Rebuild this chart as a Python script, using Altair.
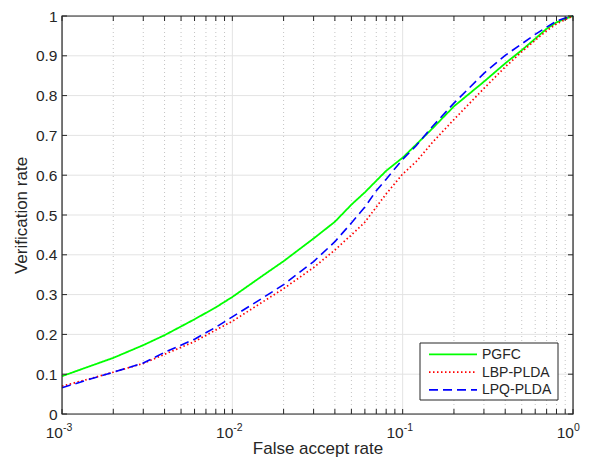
import altair as alt
import pandas as pd

# ---- data ----
fpr = [0.001, 0.0015, 0.002, 0.003, 0.004, 0.006, 0.008, 0.01, 0.015, 0.02,
       0.03, 0.04, 0.05, 0.06, 0.07, 0.08, 0.1, 0.12, 0.15, 0.2,
       0.3, 0.4, 0.5, 0.6, 0.7, 0.8, 0.9, 1.0]
pgfc = [0.095, 0.122, 0.141, 0.173, 0.198, 0.238, 0.268, 0.294, 0.347, 0.384,
        0.441, 0.483, 0.526, 0.557, 0.586, 0.611, 0.644, 0.677, 0.718, 0.773,
        0.835, 0.881, 0.914, 0.943, 0.968, 0.984, 0.993, 1.0]
lbp = [0.070, 0.090, 0.105, 0.127, 0.150, 0.182, 0.211, 0.233, 0.281, 0.315,
       0.368, 0.412, 0.450, 0.482, 0.520, 0.553, 0.603, 0.634, 0.683, 0.740,
       0.818, 0.872, 0.910, 0.939, 0.963, 0.980, 0.991, 1.0]
lpq = [0.066, 0.089, 0.105, 0.128, 0.155, 0.188, 0.218, 0.244, 0.291, 0.325,
       0.383, 0.433, 0.480, 0.520, 0.561, 0.590, 0.640, 0.674, 0.723, 0.781,
       0.856, 0.901, 0.930, 0.954, 0.972, 0.987, 0.995, 1.0]

series_names = ["PGFC", "LBP-PLDA", "LPQ-PLDA"]
series_colors = ["#00ff00", "#ff0000", "#0000ff"]
series_dash = [[1, 0], [1.5, 2.5], [9, 5]]
series_width = [1.8, 1.6, 2.0]

x_major = [0.001, 0.01, 0.1, 1.0]
x_exp = ["-3", "-2", "-1", "0"]
x_minor = [m * d for d in [0.001, 0.01, 0.1] for m in range(2, 10)]
y_ticks = [round(i * 0.1, 1) for i in range(11)]

# ---- layout / style ----
W, H = 511, 398
FONT = "Liberation Sans"
TXT = "#262626"

rows = []
for name, vals in zip(series_names, [pgfc, lbp, lpq]):
    for x, y in zip(fpr, vals):
        rows.append({"series": name, "fpr": x, "vr": y})
df = pd.DataFrame(rows)

xs = alt.Scale(type="log", domain=[0.001, 1])
ysc = alt.Scale(domain=[0, 1])
x_axis = alt.Axis(
    title="False accept rate", labels=False, ticks=False, domain=False, grid=False,
    titleFont=FONT, titleFontSize=17, titleFontWeight="normal", titleColor=TXT,
    titlePadding=26)
y_axis = alt.Axis(
    title="Verification rate", values=y_ticks, format="~g", ticks=False, domain=False,
    grid=False, labelFont=FONT, labelFontSize=15.5, labelColor=TXT, labelPadding=5,
    titleFont=FONT, titleFontSize=17, titleFontWeight="normal", titleColor=TXT,
    titlePadding=5)


def X(field):
    return alt.X(field, scale=xs, axis=x_axis)


def Y(field):
    return alt.Y(field, scale=ysc, axis=y_axis)


color = alt.Color("series:N", scale=alt.Scale(domain=series_names, range=series_colors), legend=None)
dash = alt.StrokeDash("series:N", scale=alt.Scale(domain=series_names, range=series_dash), legend=None)
swidth = alt.StrokeWidth("series:N", scale=alt.Scale(domain=series_names, range=series_width), legend=None)

minor_grid = alt.Chart(pd.DataFrame({"x": x_minor})).mark_rule(
    color="#c4c4c4", strokeDash=[1, 3], strokeWidth=1
).encode(x=X("x:Q"), y=alt.value(0), y2=alt.value(H))

major_xgrid = alt.Chart(pd.DataFrame({"x": x_major[1:-1]})).mark_rule(
    color="#e3e3e3", strokeWidth=1
).encode(x=X("x:Q"), y=alt.value(0), y2=alt.value(H))

major_ygrid = alt.Chart(pd.DataFrame({"y": y_ticks[1:-1]})).mark_rule(
    color="#e3e3e3", strokeWidth=1
).encode(y=Y("y:Q"), x=alt.value(0), x2=alt.value(W))

lines = alt.Chart(df).mark_line(strokeCap="butt").encode(
    x=X("fpr:Q"), y=Y("vr:Q"),
    color=color, strokeDash=dash, strokeWidth=swidth,
    detail="series:N",
)

tick_df = pd.DataFrame({"x": x_major + x_minor})
xticks_bottom = alt.Chart(tick_df).mark_rule(color=TXT, strokeWidth=1).encode(
    x=X("x:Q"), y=alt.value(H), y2=alt.value(H - 5))
xticks_top = alt.Chart(tick_df).mark_rule(color=TXT, strokeWidth=1).encode(
    x=X("x:Q"), y=alt.value(0), y2=alt.value(5))
ytick_df = pd.DataFrame({"y": y_ticks})
yticks_left = alt.Chart(ytick_df).mark_rule(color=TXT, strokeWidth=1).encode(
    y=Y("y:Q"), x=alt.value(0), x2=alt.value(5))
yticks_right = alt.Chart(ytick_df).mark_rule(color=TXT, strokeWidth=1).encode(
    y=Y("y:Q"), x=alt.value(W), x2=alt.value(W - 5))

frame = alt.Chart(pd.DataFrame({"a": [0]})).mark_rect(
    fillOpacity=0, stroke=TXT, strokeWidth=1.2
).encode(x=alt.value(0), x2=alt.value(W), y=alt.value(0), y2=alt.value(H))

lab_df = pd.DataFrame({"x": x_major, "exp": x_exp})
base_lab = alt.Chart(lab_df).mark_text(
    text="10", align="right", baseline="alphabetic", dx=1,
    font=FONT, fontSize=15.5, color=TXT
).encode(x=X("x:Q"), y=alt.value(H + 24))
exp_lab = alt.Chart(lab_df).mark_text(
    align="left", baseline="alphabetic", dx=1,
    font=FONT, fontSize=10.5, color=TXT
).encode(x=X("x:Q"), y=alt.value(H + 17), text="exp:N")

# ---- legend (drawn box, sample lines and names) ----
LX0, LX1, LY0, LY1 = 358, 496, 327, 384
leg_box = alt.Chart(pd.DataFrame({"a": [0]})).mark_rect(
    fill="white", stroke=TXT, strokeWidth=1
).encode(x=alt.value(LX0), x2=alt.value(LX1), y=alt.value(LY0), y2=alt.value(LY1))
legend_layers = [leg_box]
for i, name in enumerate(series_names):
    ry = 338.3 + i * 17.8
    d = pd.DataFrame({"series": [name]})
    legend_layers.append(alt.Chart(d).mark_rule(strokeCap="butt").encode(
        x=alt.value(LX0 + 9), x2=alt.value(LX0 + 57), y=alt.value(ry),
        color=color, strokeDash=dash, strokeWidth=swidth))
    legend_layers.append(alt.Chart(d).mark_text(
        align="left", baseline="middle", font=FONT, fontSize=14, color=TXT
    ).encode(x=alt.value(LX0 + 62), y=alt.value(ry + 0.5), text="series:N"))

chart = alt.layer(
    minor_grid, major_xgrid, major_ygrid, lines,
    xticks_bottom, xticks_top, yticks_left, yticks_right, frame,
    base_lab, exp_lab, *legend_layers
).properties(
    width=W, height=H,
    autosize=alt.AutoSizeParams(type="none"),
    padding={"left": 54, "top": 8, "right": 16, "bottom": 44},
).configure_view(stroke=None).configure(background="white")

chart.save("out.html", embed_options={"renderer": "svg", "actions": False})
